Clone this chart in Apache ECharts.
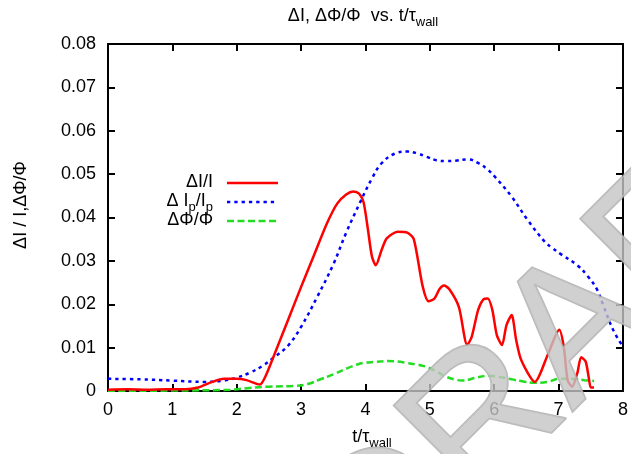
<!DOCTYPE html>
<html>
<head>
<meta charset="utf-8">
<script src="https://cdn.jsdelivr.net/npm/echarts@6/dist/echarts.min.js"></script>
<style>
  html, body { margin: 0; padding: 0; background: #fff; }
  #chart { width: 631px; height: 454px; }
</style>
</head>
<body>
<div id="chart"></div>
<script>
// Axis ticks
const xTicks = [0, 1, 2, 3, 4, 5, 6, 7, 8];
const yTicks = [0, 0.01, 0.02, 0.03, 0.04, 0.05, 0.06, 0.07, 0.08];

// ΔI/I  : [t/τwall, value]
const dIoverI = [
  [0, 0.0003], [0.3, 0.0004], [0.6, 0.0003], [0.9, 0.0004], [1.2, 0.0004],
  [1.4, 0.0008], [1.6, 0.0020], [1.8, 0.0028], [2.0, 0.0028], [2.15, 0.0025],
  [2.36, 0.0015], [2.45, 0.0035], [2.6, 0.0090], [2.8, 0.0165], [3.0, 0.0240],
  [3.2, 0.0313], [3.4, 0.0386], [3.56, 0.0432], [3.7, 0.0453], [3.81, 0.0460],
  [3.9, 0.0455], [3.97, 0.0435], [4.04, 0.0370], [4.1, 0.0310], [4.16, 0.0290],
  [4.25, 0.0325], [4.33, 0.0352], [4.5, 0.0367], [4.65, 0.0365], [4.75, 0.0350],
  [4.89, 0.0240], [4.98, 0.0207], [5.07, 0.0213], [5.15, 0.0235], [5.22, 0.0243],
  [5.3, 0.0235], [5.45, 0.0194], [5.58, 0.0106], [5.65, 0.0125], [5.75, 0.0187],
  [5.83, 0.0211], [5.9, 0.0213], [5.97, 0.0187], [6.04, 0.0129], [6.12, 0.0106],
  [6.19, 0.0152], [6.27, 0.0175], [6.34, 0.0118], [6.42, 0.0071], [6.63, 0.0021],
  [6.83, 0.0083], [7.01, 0.0141], [7.08, 0.0102], [7.14, 0.0025], [7.21, 0.0010],
  [7.29, 0.0041], [7.35, 0.0078], [7.42, 0.0068], [7.47, 0.0029], [7.5, 0.0008],
  [7.55, 0.0008]
];

// Δ Ip/Ip
const dIpOverIp = [
  [0, 0.0028], [0.5, 0.0027], [1.0, 0.0024], [1.5, 0.0021], [1.8, 0.0024],
  [2.0, 0.0031], [2.2, 0.0042], [2.4, 0.0058], [2.6, 0.0080], [2.8, 0.0105],
  [3.0, 0.0148], [3.25, 0.0217], [3.5, 0.0292], [3.7, 0.0365], [3.92, 0.0436],
  [4.1, 0.0490], [4.25, 0.0525], [4.45, 0.0547], [4.65, 0.0552], [4.8, 0.0548],
  [4.95, 0.0540], [5.1, 0.0532], [5.25, 0.0530], [5.4, 0.0531], [5.58, 0.0534],
  [5.76, 0.0525], [5.9, 0.0510], [6.01, 0.0494], [6.27, 0.0448], [6.52, 0.0394],
  [6.78, 0.0345], [6.9, 0.0330], [7.04, 0.0315], [7.29, 0.0290], [7.45, 0.0265],
  [7.6, 0.0233], [7.7, 0.0195], [7.85, 0.0140], [8.0, 0.0102]
];

// ΔΦ/Φ
const dPhiOverPhi = [
  [0, 0.0000], [1.0, 0.0001], [1.9, 0.0003], [2.2, 0.0007], [2.5, 0.0010],
  [2.9, 0.0012], [3.1, 0.0016], [3.3, 0.0027], [3.51, 0.0039], [3.71, 0.0052],
  [3.85, 0.0060], [3.97, 0.0065], [4.15, 0.0067], [4.35, 0.0069], [4.5, 0.0068],
  [4.63, 0.0065], [4.8, 0.0061], [4.94, 0.0056], [5.1, 0.0045], [5.25, 0.0033],
  [5.4, 0.0026], [5.5, 0.0024], [5.7, 0.0030], [5.88, 0.0035], [6.05, 0.0033],
  [6.27, 0.0027], [6.45, 0.0022], [6.63, 0.0019], [6.83, 0.0021], [7.0, 0.0028],
  [7.2, 0.0028], [7.4, 0.0025], [7.55, 0.0023]
];

const FONT = '"Liberation Sans", Arial, sans-serif';
const RED = '#ff0000', BLUE = '#0000ff', GREEN = '#22dd22';

// rich-text styles for subscripts
const rich = {
  m: { fontSize: 18, fontFamily: FONT, color: '#000', verticalAlign: 'bottom', padding: [0, 0, 3, 0] },
  s: { fontSize: 13, fontFamily: FONT, color: '#000', verticalAlign: 'bottom' }
};

const chart = echarts.init(document.getElementById('chart'), null, { renderer: 'canvas' });

const grid = { left: 108, right: 1, top: 44, bottom: 63 };

function tickLabelY(v) {
  return Math.abs(v) < 1e-9 ? '0' : v.toFixed(2);
}

function frameLine() {
  return { show: true, onZero: false, lineStyle: { color: '#000', width: 2 } };
}
function frameTick() {
  return { show: true, inside: true, length: 7, lineStyle: { color: '#000', width: 2 } };
}

const legendRows = [
  { label: '{m|ΔI/I}', color: RED, dash: null, y: 183 },
  { label: '{m|Δ I}{s|p}{m|/I}{s|p}', color: BLUE, dash: [3.3, 4], y: 202 },
  { label: '{m|ΔΦ/Φ}', color: GREEN, dash: [7, 3.5], y: 221 }
];

const graphics = [];
legendRows.forEach(function (r) {
  graphics.push({
    type: 'text', x: 213, y: r.y + 1, z: 10,
    style: { text: r.label, rich: rich, align: 'right', verticalAlign: 'middle' }
  });
  graphics.push({
    type: 'line', z: 10,
    shape: { x1: 227, y1: r.y, x2: 278, y2: r.y },
    style: { stroke: r.color, lineWidth: 2.5, lineDash: r.dash }
  });
});

// title
graphics.push({
  type: 'text', x: 363, y: 18, z: 10,
  style: { text: '{m|ΔI, ΔΦ/Φ  vs. t/τ}{s|wall}', rich: rich, align: 'center', verticalAlign: 'middle' }
});
// x axis name
graphics.push({
  type: 'text', x: 372, y: 439, z: 10,
  style: { text: '{m|t/τ}{s|wall}', rich: rich, align: 'center', verticalAlign: 'middle' }
});
// y axis name
graphics.push({
  type: 'text', x: 21, y: 205, rotation: Math.PI / 2, z: 10,
  style: { text: 'ΔI / I,ΔΦ/Φ', font: '18px ' + FONT, fill: '#000', align: 'center', verticalAlign: 'middle' }
});
// watermark
graphics.push({
  type: 'text', x: 565, y: 345, rotation: 45 * Math.PI / 180, z: 100,
  style: {
    text: 'DRAFT', font: '190px ' + FONT, fill: '#c4c4c4', opacity: 0.8,
    align: 'center', verticalAlign: 'middle',
    stroke: '#a8a8a8', lineWidth: 2,
    shadowBlur: 6, shadowColor: 'rgba(0,0,0,0.35)', shadowOffsetX: 3, shadowOffsetY: 3
  }
});

chart.setOption({
  animation: false,
  backgroundColor: '#fff',
  grid: grid,
  xAxis: [
    {
      type: 'value', position: 'bottom', min: xTicks[0], max: xTicks[xTicks.length - 1], interval: 1,
      axisLine: frameLine(), axisTick: frameTick(), splitLine: { show: false },
      axisLabel: { color: '#000', fontSize: 18, fontFamily: FONT, margin: 10 }
    },
    {
      type: 'value', position: 'top', min: xTicks[0], max: xTicks[xTicks.length - 1], interval: 1,
      axisLine: frameLine(), axisTick: frameTick(), splitLine: { show: false }, axisLabel: { show: false }
    }
  ],
  yAxis: [
    {
      type: 'value', position: 'left', min: yTicks[0], max: yTicks[yTicks.length - 1], interval: 0.01,
      axisLine: frameLine(), axisTick: frameTick(), splitLine: { show: false },
      axisLabel: { color: '#000', fontSize: 18, fontFamily: FONT, margin: 12, formatter: tickLabelY }
    },
    {
      type: 'value', position: 'right', min: yTicks[0], max: yTicks[yTicks.length - 1], interval: 0.01,
      axisLine: frameLine(), axisTick: frameTick(), splitLine: { show: false }, axisLabel: { show: false }
    }
  ],
  series: [
    {
      name: 'ΔI/I', type: 'line', data: dIoverI, showSymbol: false, smooth: 0.25, z: 5,
      lineStyle: { color: RED, width: 2.5 }
    },
    {
      name: 'Δ Ip/Ip', type: 'line', data: dIpOverIp, showSymbol: false, smooth: 0.4, z: 4,
      lineStyle: { color: BLUE, width: 2.5, type: [3.3, 4] }
    },
    {
      name: 'ΔΦ/Φ', type: 'line', data: dPhiOverPhi, showSymbol: false, smooth: 0.4, z: 3,
      lineStyle: { color: GREEN, width: 2.5, type: [7, 3.5] }
    }
  ],
  graphic: graphics
});
</script>
</body>
</html>
